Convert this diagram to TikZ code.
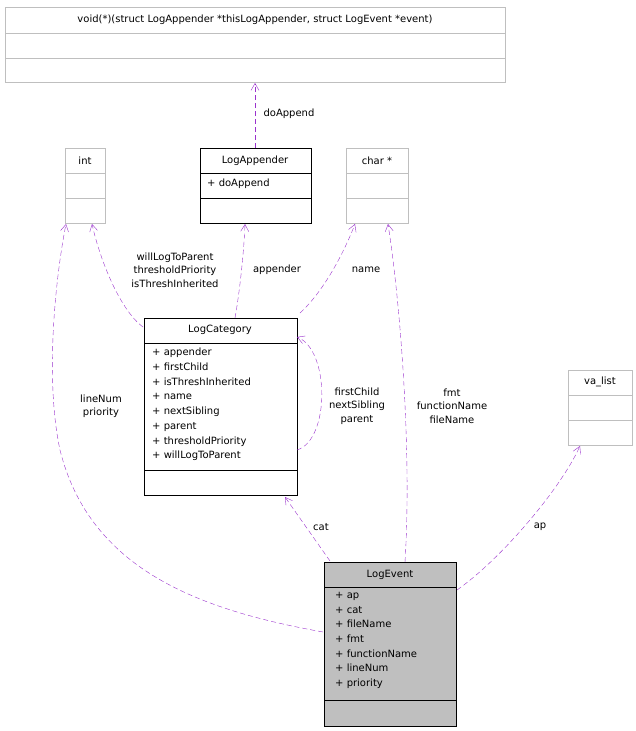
\documentclass[tikz,border=0pt]{standalone}
\usepackage{fontspec}
\setmainfont{DejaVu Sans}
\usetikzlibrary{arrows.meta}
\definecolor{edge}{HTML}{9A32CD}
\definecolor{gb}{HTML}{BFBFBF}
\begin{document}
\begin{tikzpicture}[x=1pt,y=-1pt,font=\fontsize{10}{12}\selectfont,
  conn/.style={draw=edge,dash pattern=on 5pt off 3pt,-{Straight Barb[length=7pt,width=8pt]}},
  lbl/.style={align=center,inner sep=0pt,font=\fontsize{10}{13.5}\selectfont},
  hdr/.style={inner sep=0pt,anchor=center},
  attr/.style={align=left,inner sep=0pt,anchor=north west,font=\fontsize{10}{14.7}\selectfont}]
\useasboundingbox (0,0) rectangle (636,731);
\newcommand{\cls}[8]{%
  \draw[#8] (#2,#3) rectangle (#4,#5);
  \draw[#8] (#2,#6) -- (#4,#6); \draw[#8] (#2,#7) -- (#4,#7);
  \coordinate (#1-tl) at (#2,#3);}
\cls{vf}{5}{7}{505}{82}{33}{58}{gb}
\node[hdr] (vft) at (255,20) {void(*)(struct LogAppender *thisLogAppender, struct LogEvent *event)};
\cls{int}{65}{148}{105}{223}{173}{198}{gb}
\node[hdr] (intt) at (85,161) {int};
\cls{la}{200}{148}{311}{223}{173}{198}{black}
\node[hdr] (lat) at (255,161) {LogAppender};
\node[attr] (laa) at (207,179) {+ doAppend};
\cls{ch}{346}{148}{408}{223}{173}{198}{gb}
\node[hdr] (cht) at (377,161) {char *};
\cls{va}{568}{370}{632}{445}{395}{420}{gb}
\node[hdr] (vat) at (600,382) {va\_list};
\cls{lc}{144}{318}{297}{495}{343}{470}{black}
\node[hdr] (lct) at (220,330) {LogCategory};
\node[attr] (lca) at (152,348) {+ appender\\+ firstChild\\+ isThreshInherited\\+ name\\+ nextSibling\\+ parent\\+ thresholdPriority\\+ willLogToParent};
\fill[gb] (324,562) rectangle (456,726);
\cls{le}{324}{562}{456}{726}{587}{700}{black}
\node[hdr] (let) at (390,575) {LogEvent};
\node[attr] (lea) at (335,592) {+ ap\\+ cat\\+ fileName\\+ fmt\\+ functionName\\+ lineNum\\+ priority};
\coordinate (a1) at (255,148); \coordinate (a2) at (255,83);
\coordinate (b1) at (143,327); \coordinate (b2) at (92,224);
\coordinate (c1) at (235,318); \coordinate (c2) at (245,224);
\coordinate (d1) at (300,313); \coordinate (d2) at (355,224);
\coordinate (e1) at (297,450); \coordinate (e2) at (297,337);
\coordinate (f1) at (330,561); \coordinate (f2) at (285,497);
\coordinate (g1) at (405,562); \coordinate (g2) at (388,224);
\coordinate (h1) at (323,632); \coordinate (h2) at (66,224);
\coordinate (i1) at (457,590); \coordinate (i2) at (580,446);
\draw[conn] (a1) -- (a2);
\draw[conn] (b1) .. controls (120,310) and (100,260) .. (b2);
\draw[conn] (c1) .. controls (240,290) and (244,250) .. (c2);
\draw[conn] (d1) .. controls (325,290) and (345,250) .. (d2);
\draw[conn] (e1) .. controls (330,440) and (330,350) .. (e2);
\draw[conn] (f1) -- (f2);
\draw[conn] (g1) .. controls (412,450) and (400,300) .. (g2);
\draw[conn] (h1) .. controls (200,610) and (90,570) .. (60,450) .. controls (45,380) and (55,280) .. (h2);
\draw[conn] (i1) .. controls (500,560) and (560,490) .. (i2);
\node[lbl] (l1) at (289,114) {doAppend};
\node[lbl] (l2) at (175,270) {willLogToParent\\thresholdPriority\\isThreshInherited};
\node[lbl] (l3) at (277,270) {appender};
\node[lbl] (l4) at (366,270) {name};
\node[lbl] (l5) at (357,406) {firstChild\\nextSibling\\parent};
\node[lbl] (l6) at (321,527) {cat};
\node[lbl] (l7) at (452,406) {fmt\\functionName\\fileName};
\node[lbl] (l8) at (101,406) {lineNum\\priority};
\node[lbl] (l9) at (540,527) {ap};
\end{tikzpicture}
\end{document}
